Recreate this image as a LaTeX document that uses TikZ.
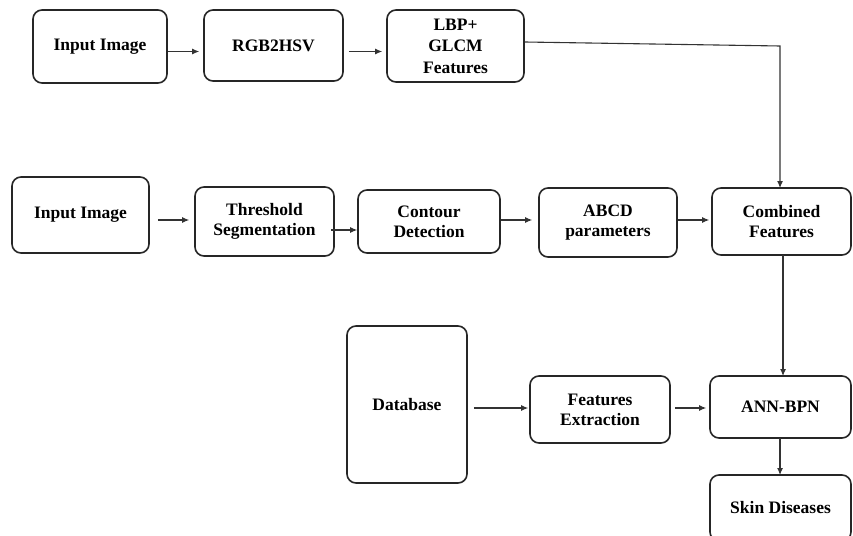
\documentclass[tikz,border=0pt]{standalone}
\usepackage{fontspec}
\setmainfont{Liberation Serif}
\usetikzlibrary{arrows.meta}
\begin{document}
\begin{tikzpicture}[x=1pt,y=-1pt,
  blk/.style={draw=black!85, line width=1.6pt, rounded corners=9pt, inner sep=0pt, align=center,
    font=\fontsize{17.5}{20}\selectfont\bfseries},
  arr/.style={draw=black!80, line width=1.1pt, -{Latex[length=7pt,width=6pt]}}]
\useasboundingbox (0,0) rectangle (853,535);
\node[blk, minimum width=134pt, minimum height=73pt] (in1) at (100,46.5) {Input Image};
\node[blk, minimum width=139pt, minimum height=71pt] (rgb) at (273.5,45.5) {RGB2HSV};
\node[blk, minimum width=137pt, minimum height=72pt, font=\fontsize{17.5}{21.5}\selectfont\bfseries] (lbp) at (455.5,46) {LBP+\\GLCM\\Features};
\node[blk, minimum width=137pt, minimum height=76pt] (in2) at (80.5,215) {Input Image};
\node[blk, minimum width=139pt, minimum height=69pt] (thr) at (264.5,221.5) {Threshold\\Segmentation};
\node[blk, minimum width=142pt, minimum height=63pt] (con) at (429,221.5) {Contour\\Detection};
\node[blk, minimum width=138pt, minimum height=69pt] (abcd) at (608,222.5) {ABCD\\parameters};
\node[blk, minimum width=139pt, minimum height=67pt] (comb) at (781.5,221.5) {Combined\\Features};
\node[blk, minimum width=120pt, minimum height=157pt] (db) at (407,404.5) {Database};
\node[blk, minimum width=140pt, minimum height=67pt] (fe) at (600,409.5) {Features\\Extraction};
\node[blk, minimum width=141pt, minimum height=62pt] (ann) at (780.5,407) {ANN-BPN};
\node[blk, minimum width=141pt, minimum height=66pt] (skin) at (780.5,508) {Skin Diseases};

\draw[arr, shorten >=4pt] ([yshift=-5pt]in1.east) -- ([yshift=-5pt]in1.east -| rgb.west);
\draw[arr, shorten <=5pt, shorten >=4pt] ([yshift=-6pt]rgb.east) -- ([yshift=-6pt]rgb.east -| lbp.west);
\draw[arr] ([yshift=4pt]lbp.east) -- (780,46) -- (780,188);
\draw[arr, shorten <=8pt, shorten >=5pt] ([yshift=-5pt]in2.east) -- ([yshift=-5pt]in2.east -| thr.west);
\draw[arr, shorten <=-4pt] ([yshift=-8.5pt]thr.east) -- ([yshift=-8.5pt]thr.east -| con.west);
\draw[arr, shorten >=6pt] ([yshift=1.5pt]con.east) -- ([yshift=1.5pt]con.east -| abcd.west);
\draw[arr, shorten >=2pt] ([yshift=2.5pt]abcd.east) -- ([yshift=2.5pt]abcd.east -| comb.west);
\draw[arr] (783,255) -- (783,376);
\draw[arr, shorten <=6pt, shorten >=1pt] ([yshift=-3.5pt]db.east) -- ([yshift=-3.5pt]db.east -| fe.west);
\draw[arr, shorten <=4pt, shorten >=3pt] ([yshift=1.5pt]fe.east) -- ([yshift=1.5pt]fe.east -| ann.west);
\draw[arr] (780,438) -- (780,475);
\end{tikzpicture}
\end{document}
